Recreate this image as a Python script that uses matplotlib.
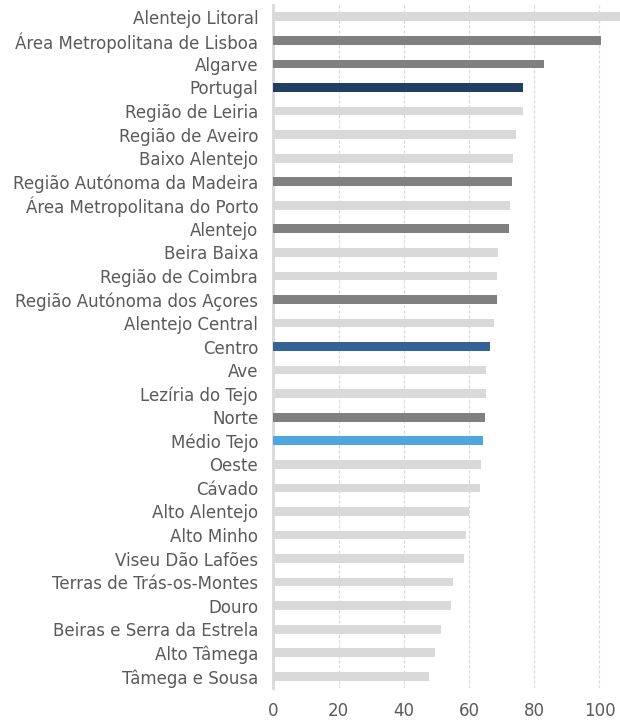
import matplotlib
matplotlib.use("Agg")
import matplotlib.pyplot as plt

regions = ["Alentejo Litoral", "Área Metropolitana de Lisboa", "Algarve", "Portugal",
           "Região de Leiria", "Região de Aveiro", "Baixo Alentejo",
           "Região Autónoma da Madeira", "Área Metropolitana do Porto", "Alentejo",
           "Beira Baixa", "Região de Coimbra", "Região Autónoma dos Açores",
           "Alentejo Central", "Centro", "Ave", "Lezíria do Tejo", "Norte",
           "Médio Tejo", "Oeste", "Cávado", "Alto Alentejo", "Alto Minho",
           "Viseu Dão Lafões", "Terras de Trás-os-Montes", "Douro",
           "Beiras e Serra da Estrela", "Alto Tâmega", "Tâmega e Sousa"]
values = [110, 100.4, 83.0, 76.7, 76.6, 74.5, 73.6, 73.3, 72.6, 72.2,
          68.8, 68.5, 68.5, 67.8, 66.5, 65.1, 65.1, 64.8, 64.4, 63.7,
          63.4, 59.9, 59.0, 58.6, 55.2, 54.5, 51.4, 49.5, 47.8]
xticks = [0, 20, 40, 60, 80, 100]

# highlight colours: NUTS II in dark grey, country and chosen regions in blue
special = {"Portugal": "#203f63", "Centro": "#336494", "Médio Tejo": "#4fa6dd"}
nuts2 = ["Área Metropolitana de Lisboa", "Algarve", "Região Autónoma da Madeira",
         "Alentejo", "Região Autónoma dos Açores", "Norte"]
colors = []
for r in regions:
    if r in special:
        colors.append(special[r])
    elif r in nuts2:
        colors.append("#808080")
    else:
        colors.append("#d9d9d9")

fig = plt.figure(figsize=(6.2, 7.22), dpi=100)
ax = fig.add_axes([0.441, 0.047, 0.559, 0.946])

pos = list(range(len(regions)))
ax.barh(pos, values, height=0.37, color=colors, zorder=3)
ax.set_ylim(len(regions) - 0.5, -0.5)
ax.set_xlim(0, 106.3)
ax.set_yticks(pos)
ax.set_yticklabels(regions)
ax.set_xticks(xticks)

for s in ["top", "right", "bottom"]:
    ax.spines[s].set_visible(False)
ax.spines["left"].set_color("#d9d9d9")
ax.spines["left"].set_linewidth(2)
ax.grid(axis="x", color="#d9d9d9", linestyle=(0, (2.5, 1.5)), linewidth=0.9, zorder=0)
ax.tick_params(axis="both", length=0, labelsize=12, colors="#5a5a5a")
ax.tick_params(axis="y", pad=11)
ax.tick_params(axis="x", pad=10)

fig.savefig("out.png", dpi=100)
